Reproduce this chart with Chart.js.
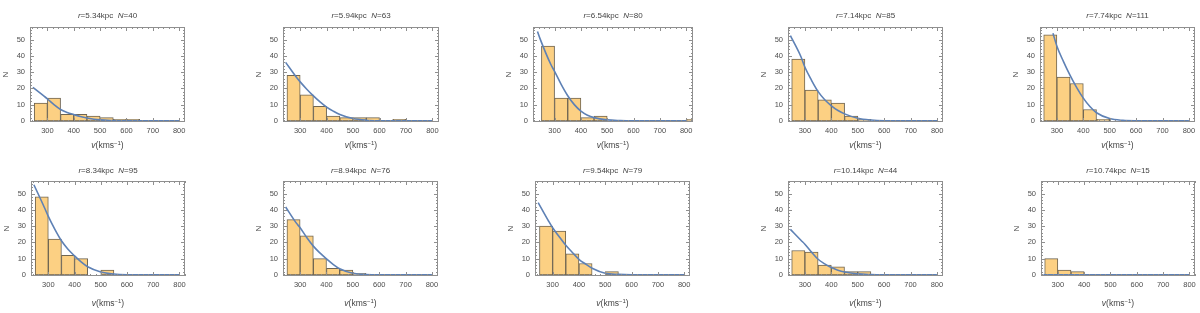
<!DOCTYPE html>
<html>
<head>
<meta charset="utf-8">
<script src="https://cdn.jsdelivr.net/npm/chart.js@4"></script>
<style>
html, body { margin: 0; padding: 0; width: 1200px; height: 313px; overflow: hidden; background: #fff; }
body { position: relative; font-family: "Liberation Sans", Arial, sans-serif; color: #444; }
canvas { position: absolute; }
.ttl, .xlab { position: absolute; white-space: nowrap; transform: translate(-50%, -50%); line-height: 1; }
.ttl { font-size: 8px; }
.xlab { font-size: 8.5px; }
.xlab sup { font-size: 6px; vertical-align: 3px; line-height: 0; }
</style>
</head>
<body>
<script>
// histogram bins (centres of 50 km/s bins, 250..850)
var binCenters = [275, 325, 375, 425, 475, 525, 575, 625, 675, 725, 775, 825];
var radii = ['5.34', '5.94', '6.54', '7.14', '7.74', '8.34', '8.94', '9.54', '10.14', '10.74'];
var starCounts = [40, 63, 80, 85, 111, 95, 76, 79, 44, 15];

var hist1 = [11, 14, 4, 4, 3, 2, 1, 1, 0, 0, 0, 0];
var hist2 = [28, 16, 9, 3, 2, 2, 2, 0, 1, 0, 0, 0];
var hist3 = [46, 14, 14, 2, 3, 0, 0, 0, 0, 0, 0, 1];
var hist4 = [38, 19, 13, 11, 3, 1, 0, 0, 0, 0, 0, 0];
var hist5 = [53, 27, 23, 7, 1, 0, 0, 0, 0, 0, 0, 0];
var hist6 = [48, 22, 12, 10, 0, 3, 0, 0, 0, 0, 0, 0];
var hist7 = [34, 24, 10, 4, 3, 1, 0, 0, 0, 0, 0, 0];
var hist8 = [30, 27, 13, 7, 0, 2, 0, 0, 0, 0, 0, 0];
var hist9 = [15, 14, 6, 5, 2, 2, 0, 0, 0, 0, 0, 0];
var hist10 = [10, 3, 2, 0, 0, 0, 0, 0, 0, 0, 0, 0];

// fitted curves
var fitV = [235, 245, 285, 300, 325, 350, 375, 400, 425, 450, 500, 550, 600, 700, 800];
var fit1 = [null, 20.6, 15.5, 13.6, 10.0, 7.0, 5.2, 3.9, 2.7, 1.8, 0.6, 0.2, 0.05, 0, 0];
var fit2 = [null, 36, 27, 24, 19.5, 15.4, 11.7, 8.5, 6, 3.9, 1.4, 0.4, 0.1, 0, 0];
var fit3 = [55, 50.5, 35, 30.5, 22.5, 15.5, 10, 6, 3.5, 2, 0.6, 0.2, 0.05, 0, 0];
var fit4 = [null, 52.5, 39.5, 33, 25, 18, 13, 9.3, 6.4, 4.3, 1.6, 0.5, 0.1, 0, 0];
var fit5 = [null, null, 54, 46, 36.5, 28, 20.5, 14, 8.8, 5, 1.4, 0.3, 0.05, 0, 0];
var fit6 = [null, 55.5, 41.5, 36, 28, 21, 15.8, 11.7, 8, 5, 1.8, 0.5, 0.1, 0, 0];
var fit7 = [null, 41.8, 32, 29, 23, 17.7, 13.5, 9.8, 6.5, 3.8, 1, 0.2, 0, 0, 0];
var fit8 = [null, 44.5, 33, 29, 23.5, 18.2, 13.8, 9.6, 6.7, 4.1, 1, 0.3, 0.05, 0, 0];
var fit9 = [null, 28, 21.3, 18.9, 14, 9.6, 6.8, 4.5, 2.9, 1.8, 0.6, 0.2, 0.05, 0, 0];
var fit10 = [null, 0, 0, 0, 0, 0, 0, 0, 0, 0, 0, 0, 0, 0, 0];

var xTickValues = [300, 400, 500, 600, 700, 800];
var yTickValues = [0, 10, 20, 30, 40, 50];

var hists = [hist1, hist2, hist3, hist4, hist5, hist6, hist7, hist8, hist9, hist10];
var fits = [fit1, fit2, fit3, fit4, fit5, fit6, fit7, fit8, fit9, fit10];

// layout of each frame in the page
var frameLeft = [30, 283, 533, 788, 1040, 31, 283, 535, 788, 1041];
var frameWidth = [155, 156, 160, 155, 155, 154, 155, 155, 155, 154];
var xMinArr = [234, 235, 218, 236, 236, 234, 235, 233, 236, 236];
var xMaxArr = [822, 825, 826, 822, 823, 821, 823, 822, 823, 821];

Chart.defaults.font.family = '"Liberation Sans", Arial, sans-serif';
Chart.defaults.color = '#4d4d4d';

var frameTicks = {
  id: 'frameTicks',
  afterDatasetsDraw: function(chart) {
    var a = chart.chartArea, ctx = chart.ctx;
    var xs = chart.scales.x, ys = chart.scales.y;
    ctx.save();
    ctx.strokeStyle = '#8f8f8f';
    ctx.lineWidth = 1;
    ctx.beginPath();
    for (var v = 220; v <= 840; v += 20) {
      if (v <= xs.min || v >= xs.max) continue;
      var len = v % 100 === 0 ? 4 : 2;
      var px = Math.round(xs.getPixelForValue(v)) + 0.5;
      ctx.moveTo(px, a.bottom); ctx.lineTo(px, a.bottom - len);
      ctx.moveTo(px, a.top); ctx.lineTo(px, a.top + len);
    }
    for (var n = 0; n <= 56; n += 2) {
      var l2 = n % 10 === 0 ? 4 : 2;
      var py = Math.round(ys.getPixelForValue(n)) + 0.5;
      ctx.moveTo(a.left, py); ctx.lineTo(a.left + l2, py);
      ctx.moveTo(a.right, py); ctx.lineTo(a.right - l2, py);
    }
    ctx.stroke();
    ctx.strokeRect(a.left + 0.5, a.top + 0.5, a.right - a.left - 1, a.bottom - a.top - 1);
    ctx.restore();
  }
};

function addLabel(cls, html, x, y) {
  var d = document.createElement('div');
  d.className = cls;
  d.innerHTML = html;
  d.style.left = x + 'px';
  d.style.top = y + 'px';
  document.body.appendChild(d);
}

function makePanel(i) {
  var row = i < 5 ? 0 : 1;
  var rowTop = row === 0 ? 0 : 156;
  var rowH = row === 0 ? 156 : 157;
  var fTop = row === 0 ? 27 : 181;
  var fBot = row === 0 ? 122 : 276;
  var yW = 36, padR = 8;

  var canvas = document.createElement('canvas');
  canvas.width = yW + frameWidth[i] + padR;
  canvas.height = rowH;
  canvas.style.left = (frameLeft[i] - yW) + 'px';
  canvas.style.top = rowTop + 'px';
  document.body.appendChild(canvas);

  var counts = hists[i];
  var barData = binCenters.map(function(c, k) {
    return {x: c, y: counts[k] > 0 ? counts[k] : null};
  });
  var fitData = fitV.map(function(v, k) {
    return {x: v, y: fits[i][k]};
  });

  new Chart(canvas.getContext('2d'), {
    type: 'bar',
    data: {
      datasets: [{
        type: 'line',
        data: fitData,
        borderColor: '#5e81b5',
        borderWidth: 1.6,
        pointRadius: 0,
        fill: false,
        cubicInterpolationMode: 'monotone',
        order: 0
      }, {
        type: 'bar',
        data: barData,
        backgroundColor: '#fcd083',
        borderColor: '#6f6552',
        borderWidth: 1,
        borderSkipped: false,
        barPercentage: 1,
        categoryPercentage: 1,
        grouped: false,
        clip: 0,
        order: 1
      }]
    },
    options: {
      responsive: false,
      animation: false,
      devicePixelRatio: 1,
      layout: {padding: {top: fTop - rowTop, right: padR, left: 0, bottom: 0}},
      plugins: {legend: {display: false}, tooltip: {enabled: false}, title: {display: false}},
      scales: {
        x: {
          type: 'linear',
          offset: false,
          min: xMinArr[i],
          max: xMaxArr[i],
          grid: {display: false, drawTicks: false},
          border: {display: false},
          ticks: {font: {size: 7.5}, padding: 4, maxRotation: 0},
          afterBuildTicks: function(s) { s.ticks = xTickValues.map(function(v) { return {value: v}; }); },
          afterFit: function(s) { s.height = rowH - (fBot - rowTop); }
        },
        y: {
          type: 'linear',
          min: -0.7,
          max: 57.8,
          grid: {display: false, drawTicks: false},
          border: {display: false},
          ticks: {font: {size: 7.5}, padding: 5},
          title: {display: true, text: 'N', font: {size: 8}, color: '#444', padding: {top: 7, bottom: 0}},
          afterBuildTicks: function(s) { s.ticks = yTickValues.map(function(v) { return {value: v}; }); },
          afterFit: function(s) { s.width = yW; }
        }
      }
    },
    plugins: [frameTicks]
  });

  var cx = frameLeft[i] + frameWidth[i] / 2;
  addLabel('ttl', '<i>r</i>=' + radii[i] + 'kpc&nbsp;&nbsp;<i>N</i>=' + starCounts[i], cx, row === 0 ? 16 : 171);
  addLabel('xlab', '<i>v</i>(kms<sup>\u22121</sup>)', cx, row === 0 ? 145 : 302.5);
}

for (var i = 0; i < 10; i++) {
  makePanel(i);
}
</script>
</body>
</html>
